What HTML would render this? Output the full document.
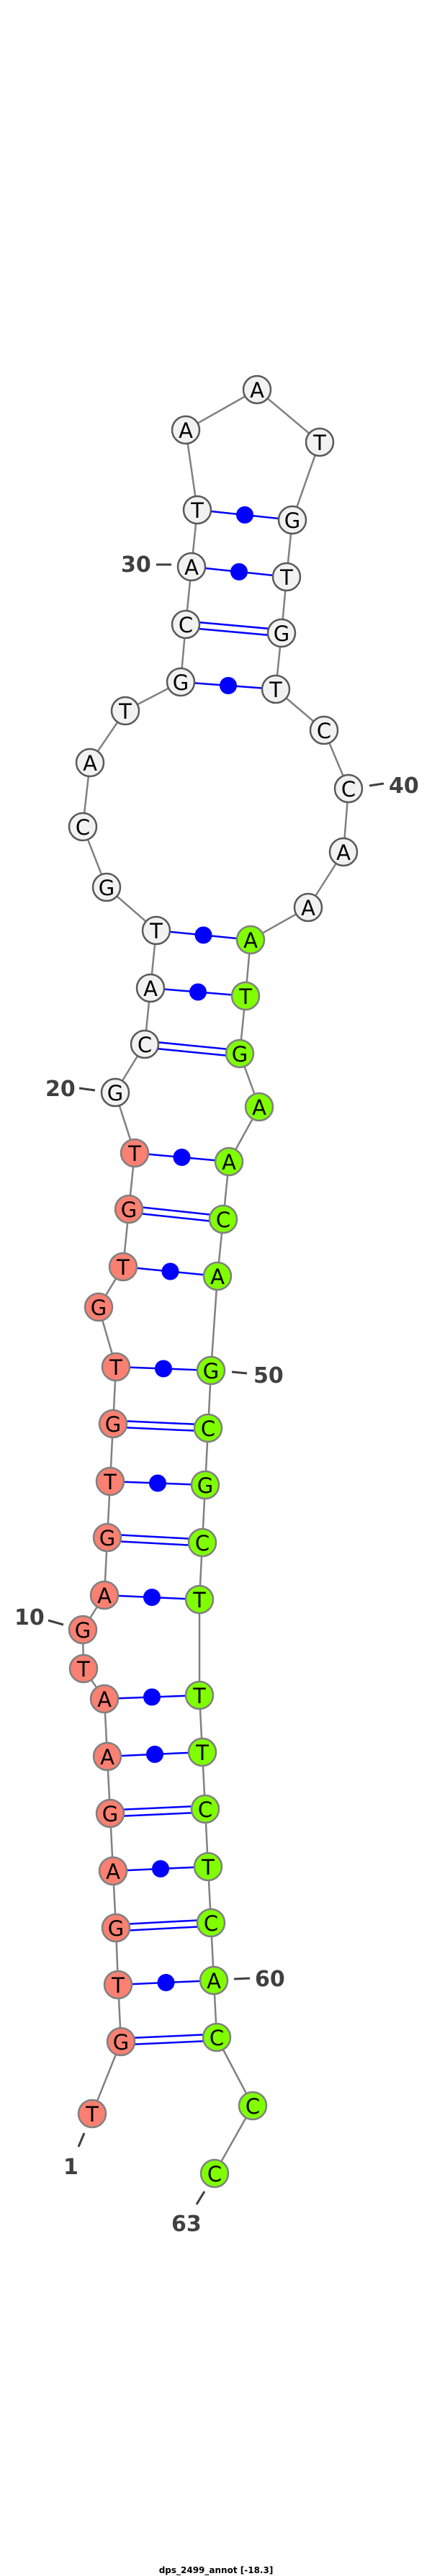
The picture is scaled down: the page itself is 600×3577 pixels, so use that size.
<!DOCTYPE html>
<html><head><meta charset="utf-8"><style>html,body{margin:0;padding:0;background:#fff}svg{display:block}</style></head>
<body>
<svg width="600" height="3577" viewBox="0 0 600 3577" xmlns="http://www.w3.org/2000/svg">
<g stroke="#808080" stroke-width="2.5" fill="none">
<polyline points="128,2935 168,2835 164,2756 161,2677 157,2598 153,2518 149,2439 145,2359 116,2317 115,2263 145,2215 149,2135 153,2057 157,1977 161,1898 137,1815 171,1759 179,1679 187,1601 160,1517 201,1450 209,1372 217,1292 148,1232 115,1148 125,1059 174,987 251,947 258,867 266,787 274,708 258,597 357,541 444,614 406,722 398,801 391,879 383,957 450,1014 484,1095 477,1183 428,1260 348,1305 341,1383 333,1463 360,1537 318,1613 310,1693 302,1772 293,1903 289,1983 285,2062 281,2142 277,2221 277,2354 281,2433 285,2512 289,2592 293,2670 297,2750 301,2829 351,2924 298,3018"/>
</g>
<g stroke="#0000ff" stroke-width="2.5">
<!-- GC double -->
<line x1="168" y1="2830.5" x2="301" y2="2824.5"/><line x1="168" y1="2839.5" x2="301" y2="2833.5"/>
<line x1="161" y1="2672.5" x2="293" y2="2665.5"/><line x1="161" y1="2681.5" x2="293" y2="2674.5"/>
<line x1="153" y1="2513.5" x2="285" y2="2507.5"/><line x1="153" y1="2522.5" x2="285" y2="2516.5"/>
<line x1="149" y1="2130.5" x2="281" y2="2137.5"/><line x1="149" y1="2139.5" x2="281" y2="2146.5"/>
<line x1="157" y1="1972.5" x2="289" y2="1978.5"/><line x1="157" y1="1981.5" x2="289" y2="1987.5"/>
<line x1="179" y1="1674.5" x2="310" y2="1688.5"/><line x1="179" y1="1683.5" x2="310" y2="1697.5"/>
<line x1="201" y1="1445.5" x2="333" y2="1458.5"/><line x1="201" y1="1454.5" x2="333" y2="1467.5"/>
<line x1="258" y1="862.5" x2="391" y2="874.5"/><line x1="258" y1="871.5" x2="391" y2="883.5"/>
<!-- single -->
<line x1="164" y1="2756" x2="297" y2="2750"/>
<line x1="157" y1="2598" x2="289" y2="2592"/>
<line x1="149" y1="2439" x2="281" y2="2433"/>
<line x1="145" y1="2359" x2="277" y2="2354"/>
<line x1="145" y1="2215" x2="277" y2="2221"/>
<line x1="153" y1="2057" x2="285" y2="2062"/>
<line x1="161" y1="1898" x2="293" y2="1903"/>
<line x1="171" y1="1759" x2="302" y2="1772"/>
<line x1="187" y1="1601" x2="318" y2="1613"/>
<line x1="209" y1="1372" x2="341" y2="1383"/>
<line x1="217" y1="1292" x2="348" y2="1305"/>
<line x1="251" y1="947" x2="383" y2="957"/>
<line x1="266" y1="787" x2="398" y2="801"/>
<line x1="274" y1="708" x2="406" y2="722"/>
</g>
<g fill="#0000ff">
<circle cx="230.5" cy="2753" r="12"/>
<circle cx="223" cy="2595" r="12"/>
<circle cx="215" cy="2436" r="12"/>
<circle cx="211" cy="2356.5" r="12"/>
<circle cx="211" cy="2218" r="12"/>
<circle cx="219" cy="2059.5" r="12"/>
<circle cx="227" cy="1900.5" r="12"/>
<circle cx="236.5" cy="1765.5" r="12"/>
<circle cx="252.5" cy="1607" r="12"/>
<circle cx="275" cy="1377.5" r="12"/>
<circle cx="282.5" cy="1298.5" r="12"/>
<circle cx="317" cy="952" r="12"/>
<circle cx="332" cy="794" r="12"/>
<circle cx="340" cy="715" r="12"/>
</g>
<g stroke-width="2.5">
<g fill="#fa8072" stroke="#808080">
<circle cx="128" cy="2935" r="19"/><circle cx="168" cy="2835" r="19"/><circle cx="164" cy="2756" r="19"/><circle cx="161" cy="2677" r="19"/><circle cx="157" cy="2598" r="19"/><circle cx="153" cy="2518" r="19"/><circle cx="149" cy="2439" r="19"/><circle cx="145" cy="2359" r="19"/><circle cx="116" cy="2317" r="19"/><circle cx="115" cy="2263" r="19"/><circle cx="145" cy="2215" r="19"/><circle cx="149" cy="2135" r="19"/><circle cx="153" cy="2057" r="19"/><circle cx="157" cy="1977" r="19"/><circle cx="161" cy="1898" r="19"/><circle cx="137" cy="1815" r="19"/><circle cx="171" cy="1759" r="19"/><circle cx="179" cy="1679" r="19"/><circle cx="187" cy="1601" r="19"/>
</g>
<g fill="#f2f2f2" stroke="#5a5a5a">
<circle cx="160" cy="1517" r="19"/><circle cx="201" cy="1450" r="19"/><circle cx="209" cy="1372" r="19"/><circle cx="217" cy="1292" r="19"/><circle cx="148" cy="1232" r="19"/><circle cx="115" cy="1148" r="19"/><circle cx="125" cy="1059" r="19"/><circle cx="174" cy="987" r="19"/><circle cx="251" cy="947" r="19"/><circle cx="258" cy="867" r="19"/><circle cx="266" cy="787" r="19"/><circle cx="274" cy="708" r="19"/><circle cx="258" cy="597" r="19"/><circle cx="357" cy="541" r="19"/><circle cx="444" cy="614" r="19"/><circle cx="406" cy="722" r="19"/><circle cx="398" cy="801" r="19"/><circle cx="391" cy="879" r="19"/><circle cx="383" cy="957" r="19"/><circle cx="450" cy="1014" r="19"/><circle cx="484" cy="1095" r="19"/><circle cx="477" cy="1183" r="19"/><circle cx="428" cy="1260" r="19"/>
</g>
<g fill="#7fff00" stroke="#808080">
<circle cx="348" cy="1305" r="19"/><circle cx="341" cy="1383" r="19"/><circle cx="333" cy="1463" r="19"/><circle cx="360" cy="1537" r="19"/><circle cx="318" cy="1613" r="19"/><circle cx="310" cy="1693" r="19"/><circle cx="302" cy="1772" r="19"/><circle cx="293" cy="1903" r="19"/><circle cx="289" cy="1983" r="19"/><circle cx="285" cy="2062" r="19"/><circle cx="281" cy="2142" r="19"/><circle cx="277" cy="2221" r="19"/><circle cx="277" cy="2354" r="19"/><circle cx="281" cy="2433" r="19"/><circle cx="285" cy="2512" r="19"/><circle cx="289" cy="2592" r="19"/><circle cx="293" cy="2670" r="19"/><circle cx="297" cy="2750" r="19"/><circle cx="301" cy="2829" r="19"/><circle cx="351" cy="2924" r="19"/><circle cx="298" cy="3018" r="19"/>
</g>
</g>
<g font-family="DejaVu Sans, Liberation Sans, sans-serif" font-size="29" fill="#000" text-anchor="middle">
<text x="128" y="2946">T</text><text x="168" y="2846">G</text><text x="164" y="2767">T</text><text x="161" y="2688">G</text><text x="157" y="2609">A</text><text x="153" y="2529">G</text><text x="149" y="2450">A</text><text x="145" y="2370">A</text><text x="116" y="2328">T</text><text x="115" y="2274">G</text><text x="145" y="2226">A</text><text x="149" y="2146">G</text><text x="153" y="2068">T</text><text x="157" y="1988">G</text><text x="161" y="1909">T</text><text x="137" y="1826">G</text><text x="171" y="1770">T</text><text x="179" y="1690">G</text><text x="187" y="1612">T</text>
<text x="160" y="1528">G</text><text x="201" y="1461">C</text><text x="209" y="1383">A</text><text x="217" y="1303">T</text><text x="148" y="1243">G</text><text x="115" y="1159">C</text><text x="125" y="1070">A</text><text x="174" y="998">T</text><text x="251" y="958">G</text><text x="258" y="878">C</text><text x="266" y="798">A</text><text x="274" y="719">T</text><text x="258" y="608">A</text><text x="357" y="552">A</text><text x="444" y="625">T</text><text x="406" y="733">G</text><text x="398" y="812">T</text><text x="391" y="890">G</text><text x="383" y="968">T</text><text x="450" y="1025">C</text><text x="484" y="1106">C</text><text x="477" y="1194">A</text><text x="428" y="1271">A</text>
<text x="348" y="1316">A</text><text x="341" y="1394">T</text><text x="333" y="1474">G</text><text x="360" y="1548">A</text><text x="318" y="1624">A</text><text x="310" y="1704">C</text><text x="302" y="1783">A</text><text x="293" y="1914">G</text><text x="289" y="1994">C</text><text x="285" y="2073">G</text><text x="281" y="2153">C</text><text x="277" y="2232">T</text><text x="277" y="2365">T</text><text x="281" y="2444">T</text><text x="285" y="2523">C</text><text x="289" y="2603">T</text><text x="293" y="2681">C</text><text x="297" y="2761">A</text><text x="301" y="2840">C</text><text x="351" y="2935">C</text><text x="298" y="3029">C</text>
</g>
<g stroke="#404040" stroke-width="3">
<line x1="217" y1="784" x2="238" y2="784"/>
<line x1="513" y1="1091" x2="533" y2="1088"/>
<line x1="110" y1="1511" x2="132" y2="1514"/>
<line x1="322" y1="1905" x2="343" y2="1907"/>
<line x1="67" y1="2250" x2="88" y2="2256"/>
<line x1="325" y1="2748" x2="347" y2="2747"/>
<line x1="117" y1="2962" x2="109" y2="2981"/>
<line x1="284" y1="3043" x2="273" y2="3061"/>
</g>
<g font-family="DejaVu Sans, Liberation Sans, sans-serif" font-size="30" font-weight="bold" fill="#404040">
<text x="168" y="794">30</text>
<text x="540" y="1101">40</text>
<text x="63" y="1522">20</text>
<text x="352" y="1920">50</text>
<text x="20" y="2256">10</text>
<text x="354" y="2758">60</text>
<text x="88" y="3019">1</text>
<text x="238" y="3098">63</text>
</g>
<text x="300" y="3573" font-family="DejaVu Sans, Liberation Sans, sans-serif" font-size="12" font-weight="bold" text-anchor="middle" fill="#000">dps_2499_annot [-18.3]</text>
</svg>
</body></html>
